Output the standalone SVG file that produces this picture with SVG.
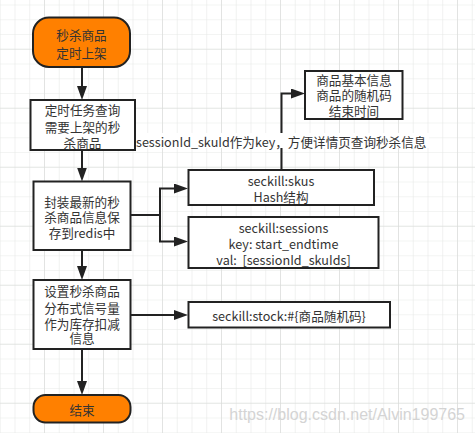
<svg xmlns="http://www.w3.org/2000/svg" width="475" height="433" viewBox="0 0 475 433">
<style>
.node{fill:#ffffff;stroke:#222;stroke-width:2}
.term{fill:#ff8000;stroke:#222;stroke-width:2}
.t{font-family:"Noto Sans CJK SC","Noto Sans",sans-serif;font-size:12.6px;fill:#333;text-anchor:middle;dominant-baseline:central}
.conn{fill:none;stroke:#222;stroke-width:2}
.lbl{font-family:"Noto Sans CJK SC","Noto Sans",sans-serif;font-size:12.6px;fill:#333;dominant-baseline:central}
</style>
<defs>
<pattern id="minor" x="44" y="48.75" width="14.75" height="14.75" patternUnits="userSpaceOnUse">
<path d="M0 0H14.75M0 0V14.75" fill="none" stroke="#e7e9e7" stroke-width="1.2"/>
</pattern>
<pattern id="major" x="44" y="48.75" width="59" height="59" patternUnits="userSpaceOnUse">
<path d="M0 0H59M0 0V59" fill="none" stroke="#d8dad8" stroke-width="1.2"/>
</pattern>
<marker id="arr" viewBox="0 -5 14 10" refX="4" refY="0" markerWidth="14" markerHeight="10" markerUnits="userSpaceOnUse" orient="auto">
<path d="M0 -5L14 0L0 5z" fill="#222"/>
</marker>
</defs>
<rect width="475" height="433" fill="#ffffff"/>
<rect width="475" height="433" fill="url(#minor)"/>
<rect width="475" height="433" fill="url(#major)"/>

<g id="connectors">
<path class="conn" d="M82 67V90" marker-end="url(#arr)"/>
<path class="conn" d="M82 150V171.5" marker-end="url(#arr)"/>
<path class="conn" d="M82 250V270" marker-end="url(#arr)"/>
<path class="conn" d="M82 349V385" marker-end="url(#arr)"/>
<path class="conn" d="M131 215H160V188.5H178" marker-end="url(#arr)"/>
<path class="conn" d="M160 215V241.5H178" marker-end="url(#arr)"/>
<path class="conn" d="M131 315H178" marker-end="url(#arr)"/>
<path class="conn" d="M281.5 170V93.5H295" marker-end="url(#arr)"/>
<rect x="136" y="133" width="293" height="15" fill="#ffffff"/>
<text class="lbl" x="136" y="141.5">sessionId_skuId作为key，方便详情页查询秒杀信息</text>
</g>

<g id="start">
<rect class="term" x="33" y="17.5" width="97" height="49.5" rx="16"/>
<text class="t" x="81.5" y="34.5">秒杀商品</text>
<text class="t" x="81.5" y="52">定时上架</text>
</g>
<g id="query">
<rect class="node" x="30.5" y="100" width="104.5" height="50"/>
<text class="t" x="82.5" y="109.5">定时任务查询</text>
<text class="t" x="82.5" y="126">需要上架的秒</text>
<text class="t" x="82.5" y="142">杀商品</text>
</g>
<g id="wrap">
<rect class="node" x="33.5" y="181.5" width="97" height="68.5"/>
<text class="t" x="82" y="201">封装最新的秒</text>
<text class="t" x="82" y="216.7">杀商品信息保</text>
<text class="t" x="82" y="232.3">存到redis中</text>
</g>
<g id="semaphore">
<rect class="node" x="33.5" y="280" width="97" height="69"/>
<text class="t" x="82" y="290.7">设置秒杀商品</text>
<text class="t" x="82" y="307.3">分布式信号量</text>
<text class="t" x="82" y="323.3">作为库存扣减</text>
<text class="t" x="82" y="337.7">信息</text>
</g>
<g id="end">
<rect class="term" x="33.5" y="395" width="97" height="27.5" rx="12"/>
<text class="t" x="82" y="409">结束</text>
</g>
<g id="info">
<rect class="node" x="305" y="71" width="97.5" height="48"/>
<text class="t" x="354" y="79.3">商品基本信息</text>
<text class="t" x="354" y="94.3">商品的随机码</text>
<text class="t" x="354" y="110">结束时间</text>
</g>
<g id="skus">
<rect class="node" x="188.5" y="170" width="185.5" height="35"/>
<text class="t" x="281" y="180.7">seckill:skus</text>
<text class="t" x="281" y="196.7">Hash结构</text>
</g>
<g id="sessions">
<rect class="node" x="188.5" y="217" width="190" height="51"/>
<text class="t" x="283.5" y="227.7">seckill:sessions</text>
<text class="t" x="283.5" y="243.3">key: start_endtime</text>
<text class="t" x="283.5" y="259" xml:space="preserve">val:  [sessionId_skuIds]</text>
</g>
<g id="stock">
<rect class="node" x="188.5" y="302" width="201.5" height="25.5"/>
<text class="t" x="289" y="315">seckill:stock:#{商品随机码}</text>
</g>
<text x="465" y="420" font-family="Liberation Sans, Arial, sans-serif" font-size="16" fill="#d4d4d4" text-anchor="end">https://blog.csdn.net/Alvin199765</text>
</svg>
